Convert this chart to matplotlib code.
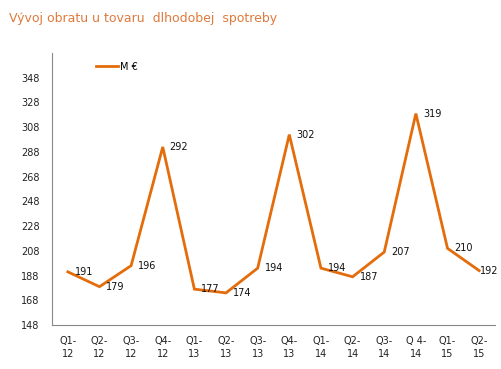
import matplotlib
matplotlib.use("Agg")
import matplotlib.pyplot as plt

categories = ["Q1-\n12", "Q2-\n12", "Q3-\n12", "Q4-\n12", "Q1-\n13", "Q2-\n13", "Q3-\n13",
              "Q4-\n13", "Q1-\n14", "Q2-\n14", "Q3-\n14", "Q 4-\n14", "Q1-\n15", "Q2-\n15"]
values = [191, 179, 196, 292, 177, 174, 194, 302, 194, 187, 207, 319, 210, 192]
yticks = [148, 168, 188, 208, 228, 248, 268, 288, 308, 328, 348]
series_name = "M €"
title = "Vývoj obratu u tovaru  dlhodobej  spotreby"

line_color = "#E46C0A"
fig = plt.figure(figsize=(5.02, 3.69), dpi=100)
ax = fig.add_axes([0.1036, 0.1192, 0.8824, 0.7372])
x = list(range(len(values)))
ax.plot(x, values, color=line_color, lw=2, label=series_name, solid_joinstyle="miter")
for i, (xi, v) in enumerate(zip(x, values)):
    dx = 5 if i < len(values) - 1 else 0.5
    ax.annotate(str(v), (xi, v), xytext=(dx, 0), textcoords="offset points",
                ha="left", va="center", fontsize=7, color="#111111")
ax.set_xlim(-0.5, len(values) - 0.5)
ax.set_ylim(148, 368)
ax.set_yticks(yticks)
ax.set_xticks(x)
ax.set_xticklabels(categories, fontsize=7, color="#222222", linespacing=1.4)
ax.tick_params(axis="y", labelsize=7, colors="#222222", length=0, pad=9)
ax.tick_params(axis="x", length=0, pad=8)
for s in ["top", "right"]:
    ax.spines[s].set_visible(False)
for s in ["left", "bottom"]:
    ax.spines[s].set_color("#888888")
    ax.spines[s].set_linewidth(0.8)
fig.text(0.018, 0.95, title, fontsize=9, color="#E07A3C", ha="left", va="center")
leg = ax.legend(loc="upper left", bbox_to_anchor=(0.08, 1.0), frameon=False, fontsize=7,
                handlelength=2.2, handletextpad=0.2)
fig.savefig("out.png", dpi=100)
